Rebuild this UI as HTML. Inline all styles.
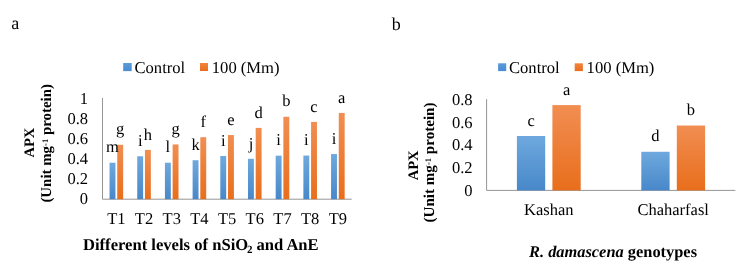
<!DOCTYPE html>
<html><head><meta charset="utf-8"><style>
html,body{margin:0;padding:0;background:#fff;width:744px;height:268px;overflow:hidden}
svg{display:block;will-change:transform}
text{text-rendering:geometricPrecision;font-family:"Liberation Serif", serif;fill:#000}
</style></head><body>
<svg width="744" height="268" viewBox="0 0 744 268">
<defs>
<linearGradient id="gB" x1="0" y1="0" x2="0" y2="1"><stop offset="0" stop-color="#6ea8dd"/><stop offset="1" stop-color="#4888ca"/></linearGradient>
<linearGradient id="lB" x1="0" y1="0" x2="0" y2="1"><stop offset="0" stop-color="#5a9bdc"/><stop offset="1" stop-color="#4a8bd3"/></linearGradient>
<linearGradient id="lO" x1="0" y1="0" x2="0" y2="1"><stop offset="0" stop-color="#f2843c"/><stop offset="1" stop-color="#e96d1d"/></linearGradient>
<linearGradient id="gO" x1="0" y1="0" x2="0" y2="1"><stop offset="0" stop-color="#f18e52"/><stop offset="1" stop-color="#e86e1c"/></linearGradient>
</defs>
<rect width="744" height="268" fill="#fff"/>
<text x="11.2" y="29.2" font-size="18" text-anchor="start" font-weight="normal" font-style="normal" >a</text>
<rect x="123.20" y="63.00" width="8.50" height="8.10" fill="url(#lB)"/>
<text x="134.5" y="72.6" font-size="16.6" text-anchor="start" font-weight="normal" font-style="normal" >Control</text>
<rect x="200.00" y="63.00" width="8.00" height="8.00" fill="url(#lO)"/>
<text x="211.8" y="72.6" font-size="16.6" text-anchor="start" font-weight="normal" font-style="normal" >100 (Mm)</text>
<line x1="102.5" y1="98" x2="102.5" y2="199.2" stroke="#959595" stroke-width="1"/>
<line x1="102.5" y1="199.2" x2="351.7" y2="199.2" stroke="#959595" stroke-width="1"/>
<text x="88.0" y="204.4" font-size="16.5" text-anchor="end" font-weight="normal" font-style="normal" >0</text>
<text x="88.0" y="184.26000000000002" font-size="16.5" text-anchor="end" font-weight="normal" font-style="normal" >0.2</text>
<text x="88.0" y="164.12" font-size="16.5" text-anchor="end" font-weight="normal" font-style="normal" >0.4</text>
<text x="88.0" y="143.98" font-size="16.5" text-anchor="end" font-weight="normal" font-style="normal" >0.6</text>
<text x="88.0" y="123.84" font-size="16.5" text-anchor="end" font-weight="normal" font-style="normal" >0.8</text>
<text x="88.0" y="103.7" font-size="16.5" text-anchor="end" font-weight="normal" font-style="normal" >1</text>
<rect x="109.54" y="162.74" width="5.90" height="36.46" fill="url(#gB)"/>
<rect x="117.24" y="144.76" width="5.90" height="54.44" fill="url(#gO)"/>
<text x="112.49" y="152.44" font-size="16.5" text-anchor="middle" font-weight="normal" font-style="normal" >m</text>
<text x="120.19" y="134.46" font-size="16.5" text-anchor="middle" font-weight="normal" font-style="normal" >g</text>
<text x="116.34" y="223.6" font-size="16.5" text-anchor="middle" font-weight="normal" font-style="normal" >T1</text>
<rect x="137.23" y="156.27" width="5.90" height="42.92" fill="url(#gB)"/>
<rect x="144.93" y="149.91" width="5.90" height="49.29" fill="url(#gO)"/>
<text x="140.18" y="145.97" font-size="16.5" text-anchor="middle" font-weight="normal" font-style="normal" >i</text>
<text x="147.88" y="139.61" font-size="16.5" text-anchor="middle" font-weight="normal" font-style="normal" >h</text>
<text x="144.03" y="223.6" font-size="16.5" text-anchor="middle" font-weight="normal" font-style="normal" >T2</text>
<rect x="164.92" y="162.74" width="5.90" height="36.46" fill="url(#gB)"/>
<rect x="172.62" y="144.46" width="5.90" height="54.74" fill="url(#gO)"/>
<text x="167.87" y="152.44" font-size="16.5" text-anchor="middle" font-weight="normal" font-style="normal" >l</text>
<text x="175.57" y="134.16" font-size="16.5" text-anchor="middle" font-weight="normal" font-style="normal" >g</text>
<text x="171.72" y="223.6" font-size="16.5" text-anchor="middle" font-weight="normal" font-style="normal" >T3</text>
<rect x="192.61" y="160.21" width="5.90" height="38.99" fill="url(#gB)"/>
<rect x="200.31" y="137.19" width="5.90" height="62.01" fill="url(#gO)"/>
<text x="195.56" y="149.91" font-size="16.5" text-anchor="middle" font-weight="normal" font-style="normal" >k</text>
<text x="203.26" y="126.89" font-size="16.5" text-anchor="middle" font-weight="normal" font-style="normal" >f</text>
<text x="199.41" y="223.6" font-size="16.5" text-anchor="middle" font-weight="normal" font-style="normal" >T4</text>
<rect x="220.30" y="155.97" width="5.90" height="43.23" fill="url(#gB)"/>
<rect x="228.00" y="135.06" width="5.90" height="64.14" fill="url(#gO)"/>
<text x="223.25" y="145.67" font-size="16.5" text-anchor="middle" font-weight="normal" font-style="normal" >i</text>
<text x="230.95" y="124.77" font-size="16.5" text-anchor="middle" font-weight="normal" font-style="normal" >e</text>
<text x="227.10" y="223.6" font-size="16.5" text-anchor="middle" font-weight="normal" font-style="normal" >T5</text>
<rect x="247.99" y="158.80" width="5.90" height="40.40" fill="url(#gB)"/>
<rect x="255.69" y="127.89" width="5.90" height="71.31" fill="url(#gO)"/>
<text x="250.94" y="148.50" font-size="16.5" text-anchor="middle" font-weight="normal" font-style="normal" >j</text>
<text x="258.64" y="117.59" font-size="16.5" text-anchor="middle" font-weight="normal" font-style="normal" >d</text>
<text x="254.79" y="223.6" font-size="16.5" text-anchor="middle" font-weight="normal" font-style="normal" >T6</text>
<rect x="275.68" y="155.67" width="5.90" height="43.53" fill="url(#gB)"/>
<rect x="283.38" y="116.78" width="5.90" height="82.42" fill="url(#gO)"/>
<text x="278.63" y="145.37" font-size="16.5" text-anchor="middle" font-weight="normal" font-style="normal" >i</text>
<text x="286.33" y="106.48" font-size="16.5" text-anchor="middle" font-weight="normal" font-style="normal" >b</text>
<text x="282.48" y="223.6" font-size="16.5" text-anchor="middle" font-weight="normal" font-style="normal" >T7</text>
<rect x="303.37" y="155.57" width="5.90" height="43.63" fill="url(#gB)"/>
<rect x="311.07" y="121.93" width="5.90" height="77.27" fill="url(#gO)"/>
<text x="306.32" y="145.27" font-size="16.5" text-anchor="middle" font-weight="normal" font-style="normal" >i</text>
<text x="314.02" y="111.63" font-size="16.5" text-anchor="middle" font-weight="normal" font-style="normal" >c</text>
<text x="310.17" y="223.6" font-size="16.5" text-anchor="middle" font-weight="normal" font-style="normal" >T8</text>
<rect x="331.06" y="154.05" width="5.90" height="45.15" fill="url(#gB)"/>
<rect x="338.76" y="112.95" width="5.90" height="86.25" fill="url(#gO)"/>
<text x="334.01" y="143.75" font-size="16.5" text-anchor="middle" font-weight="normal" font-style="normal" >i</text>
<text x="341.71" y="102.65" font-size="16.5" text-anchor="middle" font-weight="normal" font-style="normal" >a</text>
<text x="337.86" y="223.6" font-size="16.5" text-anchor="middle" font-weight="normal" font-style="normal" >T9</text>
<text x="83" y="249.7" font-size="16.6" font-weight="bold">Different levels of nSiO<tspan font-size="11" dx="-1.1" dy="3.7">2</tspan><tspan dy="-3.7" dx="-0.3"> and AnE</tspan></text>
<text transform="translate(34.2,142.6) rotate(-90)" text-anchor="middle" font-size="14.5" font-weight="bold">APX</text>
<text transform="translate(51.2,143.3) rotate(-90)" text-anchor="middle" font-size="14.9" font-weight="bold">(Unit mg<tspan font-size="8.6" dy="-3" dx="0">-1</tspan><tspan dy="3"> protein)</tspan></text>
<text x="391.8" y="29.5" font-size="18" text-anchor="start" font-weight="normal" font-style="normal" >b</text>
<rect x="498.10" y="63.30" width="8.10" height="7.80" fill="url(#lB)"/>
<text x="509.0" y="72.8" font-size="16.6" text-anchor="start" font-weight="normal" font-style="normal" >Control</text>
<rect x="574.70" y="63.30" width="8.20" height="7.80" fill="url(#lO)"/>
<text x="586.6" y="72.6" font-size="16.6" text-anchor="start" font-weight="normal" font-style="normal" >100 (Mm)</text>
<line x1="486.6" y1="99.2" x2="486.6" y2="190.4" stroke="#959595" stroke-width="1"/>
<line x1="486.6" y1="190.4" x2="735.4" y2="190.4" stroke="#959595" stroke-width="1"/>
<text x="472.6" y="195.6" font-size="16.5" text-anchor="end" font-weight="normal" font-style="normal" >0</text>
<text x="472.6" y="172.9" font-size="16.5" text-anchor="end" font-weight="normal" font-style="normal" >0.2</text>
<text x="472.6" y="150.2" font-size="16.5" text-anchor="end" font-weight="normal" font-style="normal" >0.4</text>
<text x="472.6" y="127.5" font-size="16.5" text-anchor="end" font-weight="normal" font-style="normal" >0.6</text>
<text x="472.6" y="104.8" font-size="16.5" text-anchor="end" font-weight="normal" font-style="normal" >0.8</text>
<rect x="516.90" y="135.99" width="28.30" height="54.41" fill="url(#gB)"/>
<rect x="552.40" y="105.09" width="28.30" height="85.31" fill="url(#gO)"/>
<text x="531.05" y="125.69" font-size="16.5" text-anchor="middle" font-weight="normal" font-style="normal" >c</text>
<text x="566.55" y="94.79" font-size="16.5" text-anchor="middle" font-weight="normal" font-style="normal" >a</text>
<text x="548.80" y="215.4" font-size="16.5" text-anchor="middle" font-weight="normal" font-style="normal" >Kashan</text>
<rect x="641.30" y="151.78" width="28.30" height="38.62" fill="url(#gB)"/>
<rect x="676.80" y="125.53" width="28.30" height="64.87" fill="url(#gO)"/>
<text x="655.45" y="141.48" font-size="16.5" text-anchor="middle" font-weight="normal" font-style="normal" >d</text>
<text x="690.95" y="115.23" font-size="16.5" text-anchor="middle" font-weight="normal" font-style="normal" >b</text>
<text x="673.20" y="215.4" font-size="16.5" text-anchor="middle" font-weight="normal" font-style="normal" >Chaharfasl</text>
<text x="529" y="256.5" font-size="16.4" font-weight="bold"><tspan font-style="italic">R. damascena</tspan> genotypes</text>
<text transform="translate(418.3,165.4) rotate(-90)" text-anchor="middle" font-size="14.5" font-weight="bold">APX</text>
<text transform="translate(434.0,162.5) rotate(-90)" text-anchor="middle" font-size="15.1" font-weight="bold">(Unit mg<tspan font-size="8.6" dy="-3" dx="0">-1</tspan><tspan dy="3"> protein)</tspan></text>
</svg>
</body></html>
